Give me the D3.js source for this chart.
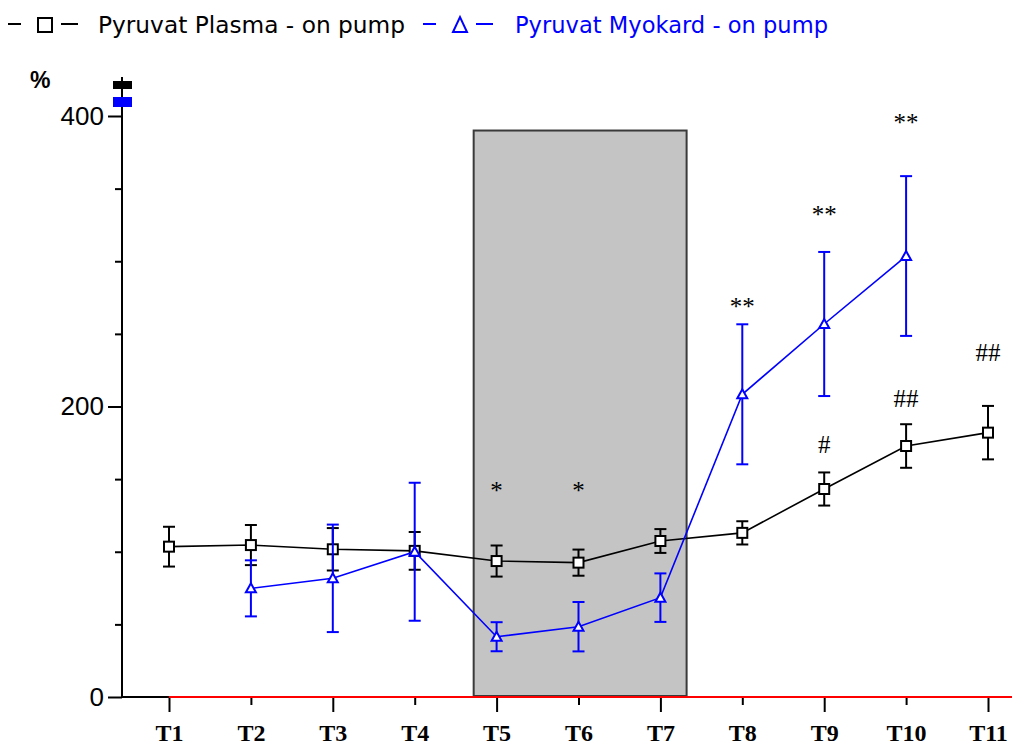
<!DOCTYPE html>
<html>
<head>
<meta charset="utf-8">
<script src="https://cdn.jsdelivr.net/npm/d3@7"></script>
<style>
  html, body { margin: 0; padding: 0; background: #fff; }
  svg { display: block; }
</style>
</head>
<body>
<div id="chart"></div>
<script>
// ---------- Data ----------
const categories = ["T1","T2","T3","T4","T5","T6","T7","T8","T9","T10","T11"];

const plasmaMean = [103.5, 104.6, 101.7, 100.6, 93.6, 92.5, 107.4, 113.0, 143.2, 172.8, 182.0];
const plasmaErr  = [13.7, 13.8, 14.6, 13.0, 10.7, 9.0, 8.2, 8.0, 11.4, 15.0, 18.4];

const myokardMean = [null, 74.8, 81.7, 100.0, 41.5, 48.4, 68.4, 208.4, 256.8, 303.6, null];
const myokardErr  = [null, 19.3, 37.0, 47.5, 10.0, 17.0, 16.7, 48.2, 49.6, 55.0, null];

// significance marks: category, label, level (in %)
const sigCategory = ["T5","T6","T8","T9","T10","T9","T10","T11"];
const sigLabel    = ["*","*","**","**","**","#","##","##"];
const sigLevel    = [144, 144, 270.6, 334, 397, 173.5, 205, 236.6];

// shaded period (category index units) and its top (%)
const shadeFrom = 4.72, shadeTo = 7.32, shadeTop = 390;

const yTicks = [0, 50, 100, 150, 200, 250, 300, 350, 400];
const yLabels = [0, 200, 400];

const legendItems = [
  {name: "Pyruvat Plasma - on pump", color: "#000", symbol: "square"},
  {name: "Pyruvat Myokard - on pump", color: "#0000ff", symbol: "triangle"}
];

// ---------- Setup ----------
const width = 1012, height = 746;
const svg = d3.select("#chart").append("svg")
  .attr("width", width).attr("height", height);

const axisX = 122;
const x = d3.scaleLinear().domain([1, 11]).range([169, 988]);
const y = d3.scaleLinear().domain([0, 400]).range([697, 116]);

// ---------- Shaded period ----------
svg.append("rect")
  .attr("x", x(shadeFrom))
  .attr("y", y(shadeTop))
  .attr("width", x(shadeTo) - x(shadeFrom))
  .attr("height", y(0) - y(shadeTop) - 1)
  .attr("fill", "#c4c4c4")
  .attr("stroke", "#3a3a3a")
  .attr("stroke-width", 2);

// ---------- Y axis ----------
const yAxis = svg.append("g")
  .attr("transform", `translate(${axisX},0)`)
  .call(d3.axisLeft(y)
    .tickValues(yTicks)
    .tickSize(14)
    .tickPadding(4)
    .tickFormat(d => yLabels.includes(d) ? d : ""));

yAxis.select(".domain").remove();
yAxis.selectAll(".tick line")
  .attr("stroke", "#000")
  .attr("stroke-width", 2)
  .attr("x2", d => yLabels.includes(d) ? -14 : -7);
yAxis.selectAll(".tick text")
  .attr("fill", "#000")
  .style("font-family", "'Liberation Sans Narrow', 'Liberation Sans', Arial, sans-serif")
  .style("font-size", "26px");

svg.append("line")
  .attr("x1", axisX).attr("x2", axisX)
  .attr("y1", 77).attr("y2", y(0))
  .attr("stroke", "#000").attr("stroke-width", 2);

// series markers at top of the axis
svg.append("rect").attr("x", 113).attr("y", 81).attr("width", 19).attr("height", 8).attr("fill", "#000");
svg.append("rect").attr("x", 113).attr("y", 97).attr("width", 19).attr("height", 10).attr("fill", "#0000ff");

svg.append("text")
  .attr("x", 30).attr("y", 88)
  .style("font-family", "'Liberation Sans', Arial, sans-serif")
  .style("font-weight", "bold")
  .style("font-size", "23px")
  .text("%");

// ---------- X axis ----------
svg.append("line")
  .attr("x1", axisX).attr("x2", x(1))
  .attr("y1", y(0)).attr("y2", y(0))
  .attr("stroke", "#000").attr("stroke-width", 2);
svg.append("line")
  .attr("x1", x(1)).attr("x2", width)
  .attr("y1", y(0)).attr("y2", y(0))
  .attr("stroke", "#ff0000").attr("stroke-width", 2);

const xAxis = svg.append("g")
  .attr("transform", `translate(0,${y(0)})`)
  .call(d3.axisBottom(x)
    .tickValues(d3.range(1, 12))
    .tickSize(15)
    .tickFormat(i => categories[i - 1]));

xAxis.select(".domain").remove();
xAxis.selectAll(".tick line")
  .attr("stroke", "#000")
  .attr("stroke-width", 2)
  .attr("y1", 1)
  .attr("y2", d => d % 2 === 1 ? 15 : 8);
xAxis.selectAll(".tick text")
  .attr("fill", "#000")
  .attr("y", 44)
  .attr("dy", 0)
  .style("font-family", "'Liberation Serif', 'Times New Roman', serif")
  .style("font-weight", "bold")
  .style("font-size", "24px");

// ---------- Series ----------
function drawSeries(mean, err, color, symbol) {
  const pts = mean.map((m, i) => ({i: i + 1, m, e: err[i]})).filter(d => d.m != null);
  const g = svg.append("g");

  g.append("path")
    .datum(pts)
    .attr("fill", "none")
    .attr("stroke", color)
    .attr("stroke-width", 1.6)
    .attr("d", d3.line().x(d => x(d.i)).y(d => y(d.m)));

  const eb = g.selectAll(".err").data(pts).join("g").attr("class", "err")
    .attr("stroke", color).attr("stroke-width", 2);
  eb.append("line")
    .attr("x1", d => x(d.i)).attr("x2", d => x(d.i))
    .attr("y1", d => y(d.m + d.e)).attr("y2", d => y(d.m - d.e));
  eb.append("line")
    .attr("x1", d => x(d.i) - 6).attr("x2", d => x(d.i) + 6)
    .attr("y1", d => y(d.m + d.e)).attr("y2", d => y(d.m + d.e));
  eb.append("line")
    .attr("x1", d => x(d.i) - 6).attr("x2", d => x(d.i) + 6)
    .attr("y1", d => y(d.m - d.e)).attr("y2", d => y(d.m - d.e));

  if (symbol === "square") {
    g.selectAll(".mk").data(pts).join("rect").attr("class", "mk")
      .attr("x", d => x(d.i) - 5).attr("y", d => y(d.m) - 5)
      .attr("width", 10).attr("height", 10)
      .attr("fill", "#fff").attr("stroke", color).attr("stroke-width", 2);
  } else {
    g.selectAll(".mk").data(pts).join("path").attr("class", "mk")
      .attr("d", d => `M${x(d.i) - 5},${y(d.m) + 4}L${x(d.i)},${y(d.m) - 5}L${x(d.i) + 5},${y(d.m) + 4}Z`)
      .attr("fill", "#fff").attr("stroke", color).attr("stroke-width", 2);
  }
}

drawSeries(plasmaMean, plasmaErr, "#000", "square");
drawSeries(myokardMean, myokardErr, "#0000ff", "triangle");

// ---------- Significance marks ----------
svg.append("g").selectAll("text")
  .data(sigLabel.map((l, k) => ({l, c: sigCategory[k], v: sigLevel[k]})))
  .join("text")
  .attr("x", d => x(categories.indexOf(d.c) + 1))
  .attr("y", d => y(d.v) + (d.l[0] === "*" ? 11 : 8))
  .attr("text-anchor", "middle")
  .style("font-family", "'Liberation Serif', 'Times New Roman', serif")
  .style("font-size", "25px")
  .text(d => d.l);

// ---------- Legend ----------
const legendX = [8, 423];
const lg = svg.append("g").selectAll("g")
  .data(legendItems)
  .join("g")
  .attr("transform", (d, i) => `translate(${legendX[i]},0)`);

lg.append("line").attr("x1", 0).attr("x2", 13).attr("y1", 24).attr("y2", 24)
  .attr("stroke", d => d.color).attr("stroke-width", 2);
lg.append("line").attr("x1", 53).attr("x2", 70).attr("y1", 24).attr("y2", 24)
  .attr("stroke", d => d.color).attr("stroke-width", 2);
lg.append("path")
  .attr("d", d => d.symbol === "square"
    ? "M30,18h14v14h-14Z"
    : "M30,32L37,17L44,32Z")
  .attr("fill", "#fff")
  .attr("stroke", d => d.color)
  .attr("stroke-width", 2);
lg.append("text")
  .attr("x", (d, i) => i === 0 ? 90 : 92)
  .attr("y", 33)
  .attr("fill", d => d.color)
  .attr("textLength", (d, i) => i === 0 ? 307 : 313)
  .attr("lengthAdjust", "spacingAndGlyphs")
  .style("font-family", "'DejaVu Sans', Verdana, sans-serif")
  .style("font-size", "23px")
  .text(d => d.name);
</script>
</body>
</html>
